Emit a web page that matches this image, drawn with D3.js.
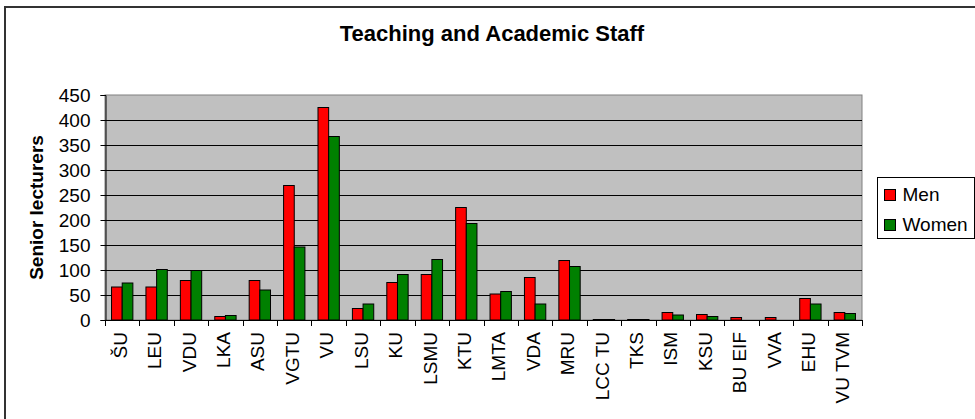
<!DOCTYPE html>
<html>
<head>
<meta charset="utf-8">
<script src="https://cdn.jsdelivr.net/npm/d3@7"></script>
<style>
  body { margin: 0; background: #fff; }
  svg { display: block; font-family: "Liberation Sans", Arial, sans-serif; }
</style>
</head>
<body>
<main></main>
<script>
// data
const universities = ['ŠU', 'LEU', 'VDU', 'LKA', 'ASU', 'VGTU', 'VU', 'LSU', 'KU', 'LSMU', 'KTU',
  'LMTA', 'VDA', 'MRU', 'LCC TU', 'TKS', 'ISM', 'KSU', 'BU EIF', 'VVA', 'EHU', 'VU TVM'];
const men   = [66, 66, 79, 7, 79, 269, 425, 23, 75, 91, 225, 52, 85, 119, 1, 1, 15, 11, 5, 5, 43, 15];
const women = [74, 101, 99, 9, 60, 146, 367, 32, 91, 121, 193, 57, 32, 107, 1, 1, 10, 7, 0, 0, 32, 13];
const seriesNames = ['Men', 'Women'];
const seriesColors = ['#ff0000', '#008000'];
const yTicks = [0, 50, 100, 150, 200, 250, 300, 350, 400, 450];

// dimensions
const width = 975;
const height = 419;
const plot = { left: 105, right: 862, top: 95, bottom: 320 };

const svg = d3.select('main')
  .append('svg')
  .attr('width', width)
  .attr('height', height);

// outer chart frame (right/bottom edges fall outside the picture)
svg.append('rect')
  .attr('x', 5)
  .attr('y', 7)
  .attr('width', width + 10)
  .attr('height', height + 10)
  .attr('fill', '#fff')
  .attr('stroke', '#333')
  .attr('stroke-width', 2);

// scales
const xScale = d3.scaleBand()
  .domain(universities)
  .range([plot.left, plot.right]);

const xInner = d3.scaleBand()
  .domain(seriesNames)
  .range([0, xScale.bandwidth() * 0.62])
  .padding(0);

const yScale = d3.scaleLinear()
  .domain([0, 450])
  .range([plot.bottom, plot.top]);

// plot background
svg.append('rect')
  .attr('x', plot.left)
  .attr('y', plot.top)
  .attr('width', plot.right - plot.left)
  .attr('height', plot.bottom - plot.top)
  .attr('fill', '#c0c0c0')
  .attr('stroke', '#808080')
  .attr('stroke-width', 1);

// gridlines
svg.append('g')
  .selectAll('line')
  .data(yTicks.filter(t => t > 0 && t < 450))
  .enter()
  .append('line')
  .attr('x1', plot.left)
  .attr('x2', plot.right)
  .attr('y1', d => Math.round(yScale(d)) + 0.5)
  .attr('y2', d => Math.round(yScale(d)) + 0.5)
  .attr('stroke', '#000');

// bars
const rows = universities.map((u, i) => ({ name: u, values: [men[i], women[i]] }));
const groupOffset = (xScale.bandwidth() - xInner.range()[1]) / 2;

const groups = svg.append('g')
  .selectAll('g')
  .data(rows)
  .enter()
  .append('g')
  .attr('transform', d => `translate(${xScale(d.name) + groupOffset}, 0)`);

groups.selectAll('rect')
  .data(d => d.values.map((v, j) => ({ series: seriesNames[j], value: v, color: seriesColors[j] })))
  .enter()
  .filter(d => d.value > 0)
  .append('rect')
  .attr('x', d => xInner(d.series))
  .attr('y', d => yScale(d.value))
  .attr('width', xInner.bandwidth())
  .attr('height', d => plot.bottom - yScale(d.value))
  .attr('fill', d => d.color)
  .attr('stroke', '#000')
  .attr('stroke-width', 1);

// y axis
const yAxis = d3.axisLeft(yScale)
  .tickValues(yTicks)
  .tickSize(5)
  .tickPadding(10);

svg.append('g')
  .attr('transform', `translate(${plot.left + 0.5}, 0)`)
  .call(yAxis)
  .call(g => g.select('.domain').attr('stroke', '#000'))
  .call(g => g.selectAll('.tick line').attr('stroke', '#000'))
  .call(g => g.selectAll('text')
    .attr('font-size', 19)
    .attr('fill', '#000')
    .attr('font-family', '"Liberation Sans", Arial, sans-serif'));

// x axis: ticks at category boundaries
const xAxisG = svg.append('g');

xAxisG.append('line')
  .attr('x1', plot.left)
  .attr('x2', plot.right)
  .attr('y1', plot.bottom + 0.5)
  .attr('y2', plot.bottom + 0.5)
  .attr('stroke', '#000');

xAxisG.selectAll('.xtick')
  .data(universities.map(u => xScale(u)).concat([plot.right]))
  .enter()
  .append('line')
  .attr('x1', d => Math.round(d) + 0.5)
  .attr('x2', d => Math.round(d) + 0.5)
  .attr('y1', plot.bottom)
  .attr('y2', plot.bottom + 6)
  .attr('stroke', '#000');

xAxisG.selectAll('text')
  .data(universities)
  .enter()
  .append('text')
  .text(d => d)
  .attr('transform', d => `translate(${xScale(d) + xScale.bandwidth() / 2 - 2}, ${plot.bottom + 12}) rotate(-90)`)
  .attr('text-anchor', 'end')
  .attr('dy', '0.35em')
  .attr('font-size', 19)
  .attr('fill', '#000');

// title
svg.append('text')
  .text('Teaching and Academic Staff')
  .attr('x', 492)
  .attr('y', 41)
  .attr('text-anchor', 'middle')
  .attr('font-size', 22)
  .attr('font-weight', 'bold');

// y axis label
svg.append('text')
  .text('Senior lecturers')
  .attr('transform', `translate(43, ${(plot.top + plot.bottom) / 2}) rotate(-90)`)
  .attr('text-anchor', 'middle')
  .attr('font-size', 19)
  .attr('font-weight', 'bold');

// legend
const legend = svg.append('g')
  .attr('transform', 'translate(877.5, 177.5)');

legend.append('rect')
  .attr('width', 97)
  .attr('height', 61)
  .attr('fill', '#fff')
  .attr('stroke', '#000');

seriesNames.forEach((name, i) => {
  legend.append('rect')
    .attr('x', 7)
    .attr('y', 12 + i * 30)
    .attr('width', 11)
    .attr('height', 11)
    .attr('fill', seriesColors[i])
    .attr('stroke', '#000');

  legend.append('text')
    .text(name)
    .attr('x', 25)
    .attr('y', 23 + i * 30)
    .attr('font-size', 19);
});
</script>
</body>
</html>
